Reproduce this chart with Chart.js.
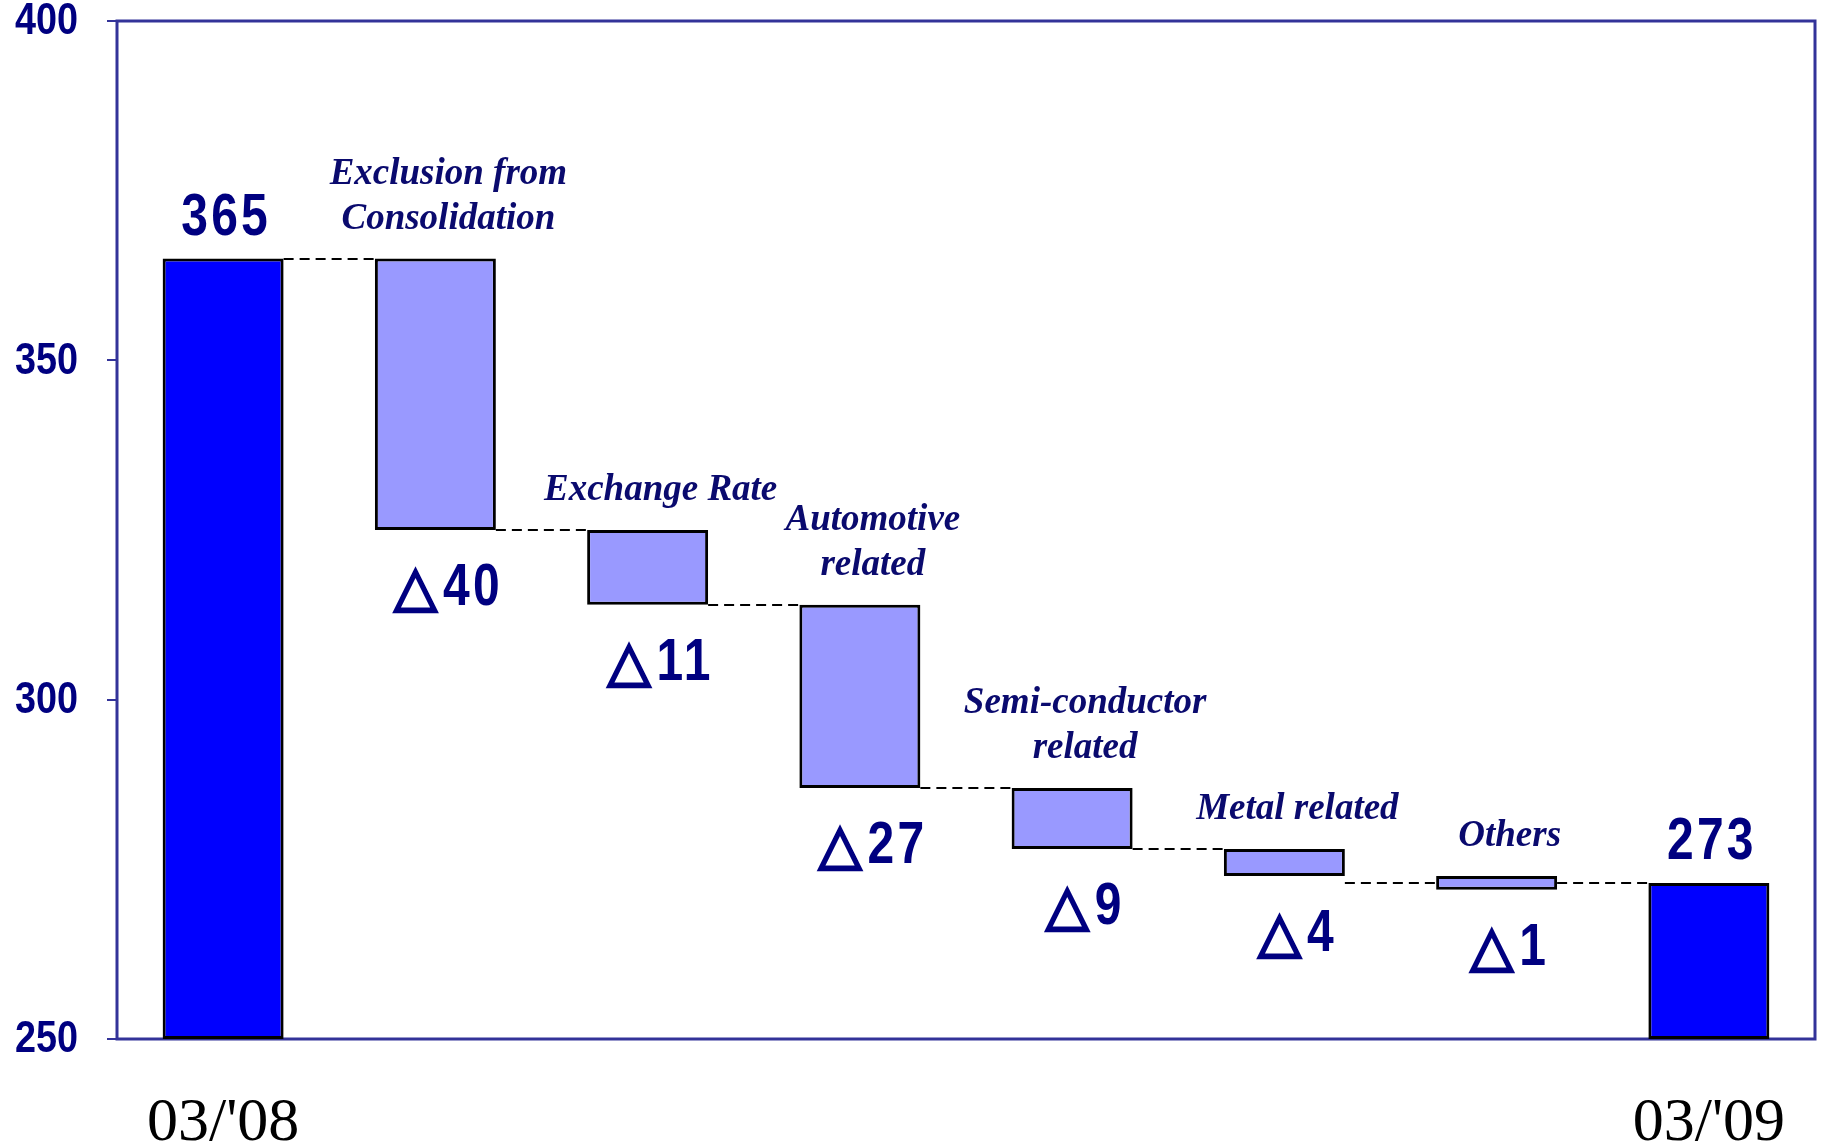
<!DOCTYPE html>
<html>
<head>
<meta charset="utf-8">
<script src="https://cdn.jsdelivr.net/npm/chart.js@4.4.0/dist/chart.umd.min.js"></script>
<style>
    html, body { margin: 0; padding: 0; background: #fff; }
    #wrap { width: 1821px; height: 1146px; }
</style>
</head>
<body>
<div id="wrap"><canvas id="bridgeChart"></canvas></div>
<script>
// ---------------- Daten ----------------
const axisLabels  = ["03/'08", "", "", "", "", "", "", "03/'09"];
const driverNames = [
    [],
    ["Exclusion from", "Consolidation"],
    ["Exchange Rate"],
    ["Automotive", "related"],
    ["Semi-conductor", "related"],
    ["Metal related"],
    ["Others"],
    []
];
const barLow      = [250, 325, 314, 287, 278, 274, 272, 250];
const barHigh     = [365, 365, 325, 314, 287, 278, 274, 273];
const valueLabels = ["365", "△40", "△11", "△27", "△9", "△4", "△1", "273"];
const isTotal     = [true, false, false, false, false, false, false, true];
const linkLevels  = [365, 325, 314, 287, 278, 273, 273];
const yMin = 250, yMax = 400, yStep = 50;

const NAVY  = "#000080";
const SANS  = '"Liberation Sans", Arial, sans-serif';
const SERIF = '"Liberation Serif", "Times New Roman", serif';
const SQUEEZE = 0.8;

// schmale Schrift per horizontaler Stauchung (keine Narrow-Schrift installiert)
function narrowText(ctx, text, x, y, sx) {
    ctx.save();
    ctx.translate(x, y);
    ctx.scale(sx, 1);
    ctx.fillText(text, 0, 0);
    ctx.restore();
}

function drawDelta(ctx, label, cx, baseY) {
    const digits = label.replace("△", "");
    const triFont = `bold 56px "DejaVu Sans", sans-serif`;
    ctx.save();
    ctx.textAlign = "left";
    ctx.font = triFont;
    const triW = ctx.measureText("△").width;
    ctx.font = `bold 60px ${SANS}`;
    ctx.letterSpacing = "4px";
    const digW = ctx.measureText(digits).width * SQUEEZE;
    const gap = 6;
    const x0 = cx - (triW + gap + digW) / 2;
    narrowText(ctx, digits, x0 + triW + gap, baseY, SQUEEZE);
    ctx.letterSpacing = "0px";
    ctx.font = triFont;
    ctx.strokeStyle = NAVY;
    ctx.lineWidth = 2.5;
    ctx.fillText("△", x0, baseY);
    ctx.strokeText("△", x0, baseY);
    ctx.restore();
}

// ---------------- Zusatz-Zeichnung ----------------
const bridgeExtras = {
    id: "bridgeExtras",
    beforeDatasetsDraw(chart) {
        const { ctx, chartArea: a } = chart;
        ctx.save();
        ctx.strokeStyle = "#333399";
        ctx.lineWidth = 3;
        ctx.strokeRect(a.left, a.top, a.right - a.left, a.bottom - a.top);

        // y-Achsenbeschriftung
        const y = chart.scales.y;
        ctx.fillStyle = NAVY;
        ctx.font = `bold 45px ${SANS}`;
        ctx.textAlign = "right";
        ctx.textBaseline = "middle";
        y.ticks.forEach(t => {
            narrowText(ctx, String(t.value), a.left - 39, y.getPixelForValue(t.value) + 1, 0.84);
        });
        ctx.restore();
    },
    afterDatasetsDraw(chart) {
        const { ctx } = chart;
        const y = chart.scales.y;
        const bars = chart.getDatasetMeta(0).data;

        // gestrichelte Verbindungen
        ctx.save();
        ctx.strokeStyle = "#000";
        ctx.lineWidth = 2;
        ctx.setLineDash([10, 6]);
        for (let i = 0; i < bars.length - 1; i++) {
            const x1 = bars[i].x + bars[i].width / 2;
            const x2 = bars[i + 1].x - bars[i + 1].width / 2;
            const py = Math.round(y.getPixelForValue(linkLevels[i]));
            ctx.beginPath();
            ctx.moveTo(x1, py);
            ctx.lineTo(x2, py);
            ctx.stroke();
        }
        ctx.restore();

        // Werte und Bezeichnungen
        ctx.save();
        ctx.textAlign = "center";
        ctx.textBaseline = "alphabetic";
        bars.forEach((bar, i) => {
            const top = y.getPixelForValue(barHigh[i]);
            const bottom = y.getPixelForValue(barLow[i]);
            ctx.fillStyle = NAVY;
            if (isTotal[i]) {
                ctx.font = `bold 60px ${SANS}`;
                ctx.letterSpacing = "4px";
                narrowText(ctx, valueLabels[i], bar.x + 3, top - 24, SQUEEZE);
                ctx.letterSpacing = "0px";
            } else {
                drawDelta(ctx, valueLabels[i], bar.x + 13, bottom + 75);
            }

            const lines = driverNames[i];
            ctx.fillStyle = "#0a0a6e";
            ctx.font = `italic bold 37px ${SERIF}`;
            lines.forEach((t, k) => {
                const fromEnd = lines.length - 1 - k;
                ctx.fillText(t, bar.x + 13, top - 30 - fromEnd * 45);
            });
        });
        ctx.restore();
    }
};

// ---------------- Diagramm ----------------
const ctx = document.getElementById("bridgeChart").getContext("2d");

new Chart(ctx, {
    type: "bar",
    data: {
        labels: axisLabels,
        datasets: [{
            data: barLow.map((lo, i) => [lo, barHigh[i]]),
            backgroundColor: isTotal.map(t => t ? "#0000FF" : "#9999FF"),
            borderColor: "#000",
            borderWidth: 3,
            borderSkipped: false,
            barPercentage: 0.57,
            categoryPercentage: 1
        }]
    },
    options: {
        responsive: true,
        maintainAspectRatio: false,
        animation: false,
        layout: { padding: { top: 21, right: 6, left: 0, bottom: 0 } },
        plugins: { legend: { display: false }, tooltip: { enabled: false } },
        scales: {
            x: {
                grid: { display: true, drawOnChartArea: false, drawTicks: true, tickLength: 48, color: "rgba(0,0,0,0)" },
                border: { display: false },
                ticks: {
                    color: "#000",
                    font: { family: SERIF, size: 62 },
                    padding: 0,
                    maxRotation: 0,
                    autoSkip: false
                },
                afterFit: s => { s.height = 107; }
            },
            y: {
                min: yMin,
                max: yMax,
                border: { display: false },
                grid: { drawOnChartArea: false, drawTicks: true, tickLength: 10, color: "#333399", lineWidth: 2 },
                ticks: { stepSize: yStep, display: false },
                afterFit: s => { s.width = 117; }
            }
        }
    },
    plugins: [bridgeExtras]
});
</script>
</body>
</html>
